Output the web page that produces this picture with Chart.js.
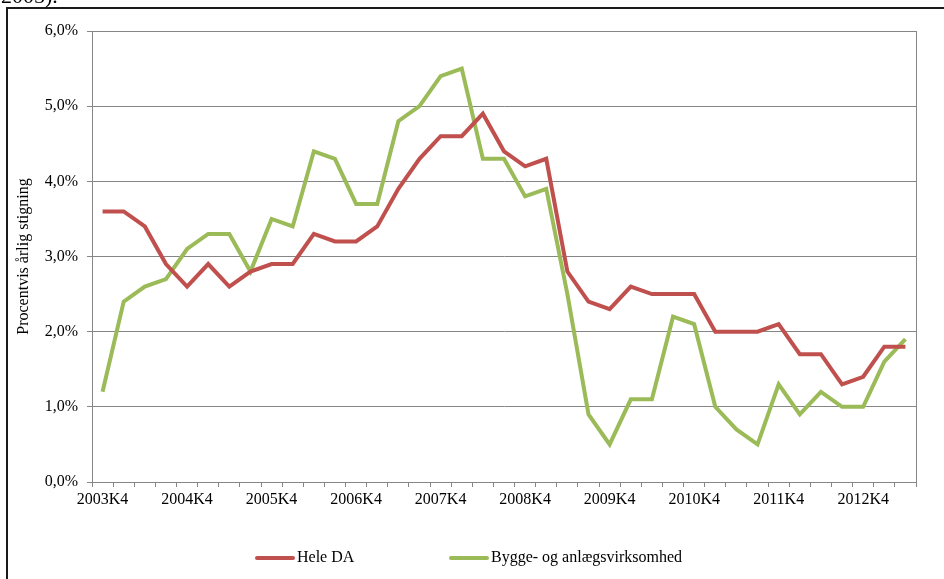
<!DOCTYPE html>
<html>
<head>
<meta charset="utf-8">
<script src="https://cdn.jsdelivr.net/npm/chart.js@4/dist/chart.umd.min.js"></script>
<style>
    body { margin: 0; background: #fff; }
    #wrap { position: relative; width: 944px; height: 579px; overflow: hidden; font-family: 'Liberation Serif', serif; }
    #chart { position: absolute; left: 0; top: 0; }
    #frame { position: absolute; left: 6px; top: 7px; width: 960px; height: 600px; border-left: 2px solid #1a1a1a; border-top: 2px solid #1a1a1a; }
    #caption { position: absolute; left: 1px; top: -17px; font-size: 22px; color: #000; }
    .legend-item { position: absolute; top: 548px; height: 18px; font-size: 16px; line-height: 18px; color: #000; white-space: nowrap; }
    .legend-item span.bar { display: inline-block; width: 40px; height: 4px; border-radius: 2px; vertical-align: middle; margin-right: 2px; }
</style>
</head>
<body>
<div id="wrap">
    <canvas id="chart" width="944" height="579"></canvas>
    <div id="frame"></div>
    <div id="caption">2005).</div>
</div>
<script>
/* ========================================
   Procentvis årlig stigning - line chart
   ======================================== */

const quarters = [
    '2003K4',
    '2004K1', '2004K2', '2004K3', '2004K4',
    '2005K1', '2005K2', '2005K3', '2005K4',
    '2006K1', '2006K2', '2006K3', '2006K4',
    '2007K1', '2007K2', '2007K3', '2007K4',
    '2008K1', '2008K2', '2008K3', '2008K4',
    '2009K1', '2009K2', '2009K3', '2009K4',
    '2010K1', '2010K2', '2010K3', '2010K4',
    '2011K1', '2011K2', '2011K3', '2011K4',
    '2012K1', '2012K2', '2012K3', '2012K4',
    '2013K1', '2013K2'
];

const heleDA = [
    3.6, 3.6, 3.4, 2.9, 2.6, 2.9, 2.6, 2.8, 2.9, 2.9,
    3.3, 3.2, 3.2, 3.4, 3.9, 4.3, 4.6, 4.6, 4.9, 4.4,
    4.2, 4.3, 2.8, 2.4, 2.3, 2.6, 2.5, 2.5, 2.5, 2.0,
    2.0, 2.0, 2.1, 1.7, 1.7, 1.3, 1.4, 1.8, 1.8
];

const byggeAnlaeg = [
    1.2, 2.4, 2.6, 2.7, 3.1, 3.3, 3.3, 2.8, 3.5, 3.4,
    4.4, 4.3, 3.7, 3.7, 4.8, 5.0, 5.4, 5.5, 4.3, 4.3,
    3.8, 3.9, 2.5, 0.9, 0.5, 1.1, 1.1, 2.2, 2.1, 1.0,
    0.7, 0.5, 1.3, 0.9, 1.2, 1.0, 1.0, 1.6, 1.9
];

const seriesNames = ['Hele DA', 'Bygge- og anlægsvirksomhed'];
const seriesColors = ['#C0504D', '#9BBB59'];
const yTicks = [0, 1, 2, 3, 4, 5, 6];

const FONT = 'Liberation Serif';
const GRID = '#868686';

// Plot area border (Excel style frame)
const plotBorder = {
    id: 'plotBorder',
    afterDraw(chart) {
        const { ctx, chartArea: a } = chart;
        ctx.save();
        ctx.strokeStyle = GRID;
        ctx.lineWidth = 1;
        ctx.strokeRect(Math.round(a.left) + 0.5, Math.round(a.top) + 0.5,
            Math.round(a.right - a.left), Math.round(a.bottom - a.top));
        ctx.restore();
    }
};

new Chart(document.getElementById('chart'), {
    type: 'line',
    data: {
        labels: quarters,
        datasets: [heleDA, byggeAnlaeg].map((values, i) => ({
            label: seriesNames[i],
            data: values,
            borderColor: seriesColors[i],
            backgroundColor: seriesColors[i],
            borderWidth: 4,
            pointRadius: 0,
            tension: 0,
            fill: false
        }))
    },
    options: {
        responsive: false,
        animation: false,
        layout: {
            padding: { left: 12, right: 28, top: 31, bottom: 0 }
        },
        plugins: {
            legend: { display: false },
            tooltip: { enabled: false }
        },
        scales: {
            x: {
                offset: true,
                afterFit: (scale) => { scale.height = 97; },
                grid: {
                    offset: true,
                    drawOnChartArea: false,
                    color: GRID,
                    tickLength: 5
                },
                border: { color: GRID },
                ticks: {
                    autoSkip: false,
                    maxRotation: 0,
                    minRotation: 0,
                    padding: 3,
                    color: '#000',
                    font: { family: FONT, size: 16 },
                    callback: (value, index) => quarters[index].endsWith('K4') ? quarters[index] : ''
                }
            },
            y: {
                min: 0,
                max: 6,
                afterFit: (scale) => { scale.width = 80; },
                afterBuildTicks: (scale) => { scale.ticks = yTicks.map(v => ({ value: v })); },
                grid: {
                    color: GRID,
                    tickLength: 5
                },
                border: { color: GRID },
                ticks: {
                    padding: 9,
                    color: '#000',
                    font: { family: FONT, size: 16 },
                    callback: (value) => value.toFixed(1).replace('.', ',') + '%'
                },
                title: {
                    display: true,
                    text: 'Procentvis årlig stigning',
                    color: '#000',
                    padding: { top: 2, bottom: 0 },
                    font: { family: FONT, size: 16 }
                }
            }
        }
    },
    plugins: [plotBorder]
});

// Legend below the plot
const legendX = [255, 449];
const wrap = document.getElementById('wrap');
seriesNames.forEach((name, i) => {
    const item = document.createElement('div');
    item.className = 'legend-item';
    item.style.left = legendX[i] + 'px';
    item.innerHTML = '<span class="bar" style="background:' + seriesColors[i] + '"></span>' + name;
    wrap.appendChild(item);
});
</script>
</body>
</html>
